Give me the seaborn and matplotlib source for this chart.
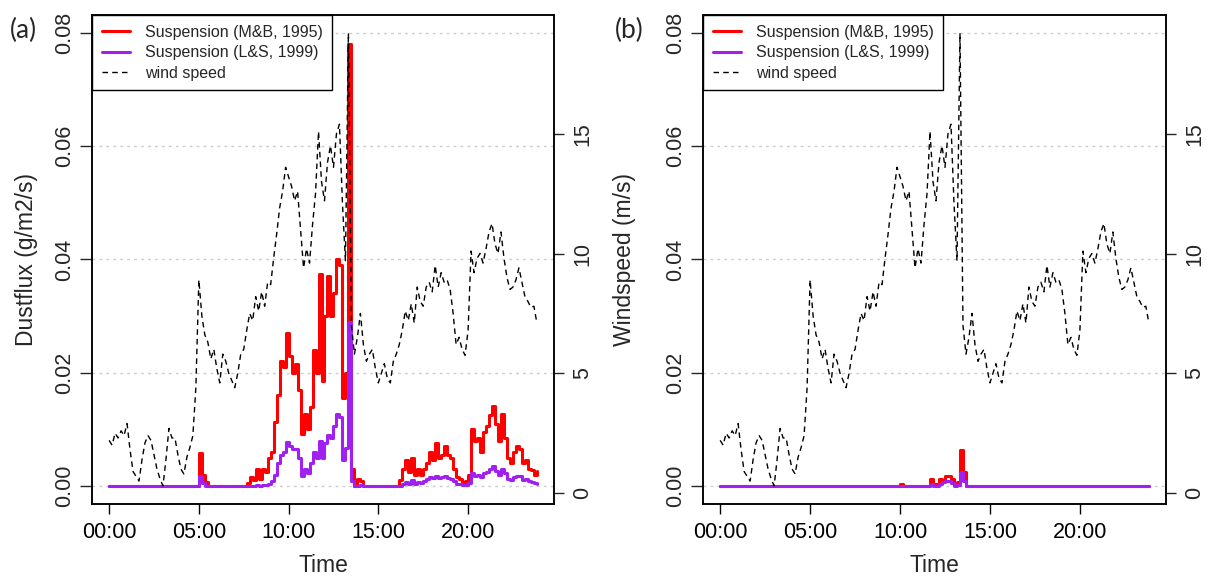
import numpy as np
import pandas as pd
import matplotlib
matplotlib.use("Agg")
import matplotlib.pyplot as plt
import seaborn as sns

# ---------------- data (10-minute resolution, 00:00 - 23:50) ----------------
times = pd.date_range("2000-01-01 00:00", periods=144, freq="10min")
time_tick_hours = [0, 5, 10, 15, 20]
time_tick_labels = ["00:00", "05:00", "10:00", "15:00", "20:00"]
flux_ticks = [0.00, 0.02, 0.04, 0.06, 0.08]
flux_tick_labels = ["0.00", "0.02", "0.04", "0.06", "0.08"]
wind_ticks = [0, 5, 10, 15]

wind_speed = [
    2.2, 2.0, 2.5, 2.3, 2.6, 2.4, 2.9, 1.8, 0.9, 0.7, 0.5, 1.4,      # 00:00-01:50
    2.1, 2.4, 2.2, 1.6, 1.0, 0.6, 0.3, 1.4, 2.7, 2.3, 2.3, 1.6,      # 02:00-03:50
    1.0, 0.8, 1.5, 1.9, 2.4, 4.4, 8.9, 7.4, 6.6, 6.3, 5.6, 6.0,      # 04:00-05:50
    5.2, 4.6, 5.8, 5.5, 5.0, 4.7, 4.4, 5.0, 5.8, 6.0, 6.8, 7.5,      # 06:00-07:50
    7.2, 8.2, 7.6, 8.4, 7.8, 8.8, 8.7, 9.8, 10.8, 11.9, 12.6, 13.6,  # 08:00-09:50
    13.2, 12.8, 12.2, 12.6, 11.0, 9.4, 10.2, 9.6, 11.2, 12.5, 15.1, 13.0,  # 10:00-11:50
    12.2, 13.8, 14.5, 13.6, 15.0, 15.4, 12.1, 9.7, 19.2, 7.0, 5.8, 6.5,    # 12:00-13:50
    7.5, 6.2, 5.5, 5.8, 6.0, 5.2, 4.6, 5.0, 5.4, 4.8, 4.6, 5.5,      # 14:00-15:50
    5.8, 6.2, 6.8, 7.6, 7.2, 7.9, 7.1, 8.6, 8.0, 7.8, 8.6, 8.8,      # 16:00-17:50
    8.4, 9.5, 8.6, 9.2, 8.8, 8.9, 8.5, 7.5, 6.2, 6.5, 6.0, 5.75,     # 18:00-19:50
    6.8, 10.1, 9.2, 9.8, 10.0, 9.6, 10.2, 10.9, 11.25, 10.4, 10.0, 10.9,  # 20:00-21:50
    9.8, 9.0, 8.5, 8.6, 8.9, 9.4, 8.8, 8.2, 8.0, 7.75, 7.8, 7.1,     # 22:00-23:50
]

flux_mb_a = [
    0.0, 0.0, 0.0, 0.0, 0.0, 0.0, 0.0, 0.0, 0.0, 0.0, 0.0, 0.0,
    0.0, 0.0, 0.0, 0.0, 0.0, 0.0, 0.0, 0.0, 0.0, 0.0, 0.0, 0.0,
    0.0, 0.0, 0.0, 0.0, 0.0, 0.0, 0.0058, 0.002, 0.0006, 0.0, 0.0, 0.0,
    0.0, 0.0, 0.0, 0.0, 0.0, 0.0, 0.0, 0.0, 0.0, 0.0, 0.0005, 0.0015,
    0.001, 0.003, 0.0012, 0.003, 0.0025, 0.005, 0.006, 0.0113, 0.016, 0.022, 0.021, 0.027,
    0.023, 0.020, 0.0215, 0.017, 0.0092, 0.0127, 0.010, 0.014, 0.024, 0.020, 0.0375, 0.0186,
    0.030, 0.037, 0.030, 0.034, 0.040, 0.039, 0.0156, 0.020, 0.078, 0.003, 0.0, 0.0013,
    0.0008, 0.0, 0.0, 0.0, 0.0, 0.0, 0.0, 0.0, 0.0, 0.0, 0.0, 0.0,
    0.0, 0.001, 0.003, 0.0045, 0.0025, 0.005, 0.002, 0.003, 0.002, 0.003, 0.004, 0.006,
    0.0045, 0.0076, 0.005, 0.0055, 0.007, 0.0055, 0.005, 0.003, 0.0015, 0.0012, 0.0005, 0.0008,
    0.002, 0.010, 0.008, 0.0085, 0.006, 0.0095, 0.0105, 0.0125, 0.0142, 0.011, 0.008, 0.0127,
    0.0085, 0.005, 0.004, 0.006, 0.007, 0.0065, 0.004, 0.0045, 0.003, 0.0028, 0.002, 0.0027,
]

flux_ls_a = [
    0.0, 0.0, 0.0, 0.0, 0.0, 0.0, 0.0, 0.0, 0.0, 0.0, 0.0, 0.0,
    0.0, 0.0, 0.0, 0.0, 0.0, 0.0, 0.0, 0.0, 0.0, 0.0, 0.0, 0.0,
    0.0, 0.0, 0.0, 0.0, 0.0, 0.0, 0.0018, 0.0005, 0.0, 0.0, 0.0, 0.0,
    0.0, 0.0, 0.0, 0.0, 0.0, 0.0, 0.0, 0.0, 0.0, 0.0, 0.0, 0.0,
    0.0, 0.0001, 0.0, 0.0002, 0.0001, 0.0003, 0.0008, 0.002, 0.004, 0.0055, 0.006, 0.0078,
    0.007, 0.0065, 0.0065, 0.005, 0.0018, 0.003, 0.0022, 0.004, 0.006, 0.005, 0.008, 0.005,
    0.0075, 0.009, 0.0085, 0.0105, 0.0127, 0.0122, 0.0045, 0.0067, 0.029, 0.0008, 0.0, 0.0,
    0.0001, 0.0, 0.0, 0.0, 0.0, 0.0, 0.0, 0.0, 0.0, 0.0, 0.0, 0.0,
    0.0, 0.0, 0.0003, 0.0007, 0.0004, 0.001, 0.0004, 0.0007, 0.0005, 0.0008, 0.0012, 0.0016,
    0.0014, 0.0018, 0.0014, 0.0015, 0.0017, 0.0014, 0.0013, 0.0008, 0.0003, 0.0003, 0.0001, 0.0002,
    0.0005, 0.0023, 0.0018, 0.002, 0.0015, 0.0022, 0.0025, 0.003, 0.0035, 0.0027, 0.002, 0.003,
    0.0022, 0.0013, 0.001, 0.0015, 0.0018, 0.0017, 0.001, 0.0012, 0.0008, 0.0007, 0.0005, 0.0004,
]

flux_mb_b = ([0.0] * 60
             + [0.0003, 0.0, 0.0, 0.0, 0.0, 0.0, 0.0, 0.0, 0.0, 0.0, 0.0012, 0.0004,
                0.0003, 0.0012, 0.0008, 0.0018, 0.0018, 0.0012, 0.0003, 0.0006, 0.0064, 0.0025, 0.0, 0.0]
             + [0.0] * 60)

flux_ls_b = ([0.0] * 60
             + [0.0, 0.0, 0.0, 0.0, 0.0, 0.0, 0.0, 0.0, 0.0, 0.0, 0.0003, 0.0,
                0.0, 0.0003, 0.0006, 0.0008, 0.0008, 0.0005, 0.0, 0.0002, 0.0025, 0.0008, 0.0, 0.0]
             + [0.0] * 60)

# ---------------- style ----------------
sns.set_style("white")
plt.rcParams["font.family"] = ["Liberation Sans", "DejaVu Sans"]

RED = "#FF0000"
PURPLE = "#A020F0"
W, H = 1210, 579

hours = np.asarray((times - times[0]).total_seconds() / 3600.0)

fig = plt.figure(figsize=(12.1, 5.79), dpi=100)


def panel(left_px, right_px, mb, ls, tag, tag_x, left_label, right_label):
    rect = [left_px / W, 1 - 504 / H, (right_px - left_px) / W, (504 - 15) / H]
    ax = fig.add_axes(rect)
    ax2 = ax.twinx()

    df = pd.DataFrame({"hour": hours, "mb": mb, "ls": ls, "wind": wind_speed})

    sns.lineplot(data=df, x="hour", y="mb", ax=ax, color=RED, lw=2.2,
                 drawstyle="steps-post", estimator=None, legend=False,
                 label="Suspension (M&B, 1995)")
    sns.lineplot(data=df, x="hour", y="ls", ax=ax, color=PURPLE, lw=2.2,
                 drawstyle="steps-post", estimator=None, legend=False,
                 label="Suspension (L&S, 1999)")
    sns.lineplot(data=df, x="hour", y="wind", ax=ax2, color="black", lw=1.0,
                 estimator=None, legend=False, label="wind speed",
                 dashes=False, linestyle=(0, (4, 3)))

    # limits: R style 4 % expansion
    ax.set_ylim(0 - 0.04 * 0.08, 0.08 + 0.04 * 0.08)
    ax.margins(x=0.04)
    ax2.margins(x=0.04, y=0.04)

    ax.set_yticks(flux_ticks)
    ax.set_yticklabels(flux_tick_labels)
    ax.set_xticks(time_tick_hours)
    ax.set_xticklabels(time_tick_labels)
    ax2.set_yticks(wind_ticks)
    ax2.set_yticklabels([str(v) for v in wind_ticks])

    ax.grid(axis="y", color="#cccccc", linestyle=(0, (2, 3)), lw=1.0)
    ax.grid(axis="x", visible=False)
    ax2.grid(False)

    for a in (ax, ax2):
        for s in a.spines.values():
            s.set_color("black")
            s.set_linewidth(1.1)

    ax.tick_params(axis="x", direction="out", length=7, width=1, labelsize=15.5,
                   pad=6, bottom=True, colors="black")
    ax.tick_params(axis="y", direction="out", length=9, width=1, labelsize=15.5,
                   pad=3, left=True, labelrotation=90)
    ax2.tick_params(axis="y", direction="out", length=7, width=1, labelsize=15.5,
                    pad=6, right=True, labelrotation=90)
    for t in ax.get_yticklabels():
        t.set_va("center")
    for t in ax2.get_yticklabels():
        t.set_va("center")

    ax.set_xlabel("Time", fontsize=16.5, labelpad=8)
    ax.set_ylabel(left_label, fontsize=16.5, labelpad=12)
    ax2.set_ylabel(right_label, fontsize=16.5, labelpad=14)

    h1, l1 = ax.get_legend_handles_labels()
    h2, l2 = ax2.get_legend_handles_labels()
    leg = ax2.legend(h1 + h2, l1 + l2, loc="upper left", bbox_to_anchor=(0, 1),
                     borderaxespad=0, fancybox=False, framealpha=1,
                     edgecolor="black", fontsize=11.5, handlelength=1.8,
                     handletextpad=0.9, borderpad=0.6, labelspacing=0.35)
    leg.get_frame().set_linewidth(1.0)

    fig.text(tag_x / W, 1 - 30 / H, tag, fontsize=19, family=["Lato", "DejaVu Sans"],
             ha="center", va="center")
    return ax, ax2


panel(92, 554, flux_mb_a, flux_ls_a, "(a)", 23, "Dustflux (g/m2/s)", "Windspeed (m/s)")
panel(703, 1166, flux_mb_b, flux_ls_b, "(b)", 629, "", "")

fig.savefig("out.png", dpi=100)
